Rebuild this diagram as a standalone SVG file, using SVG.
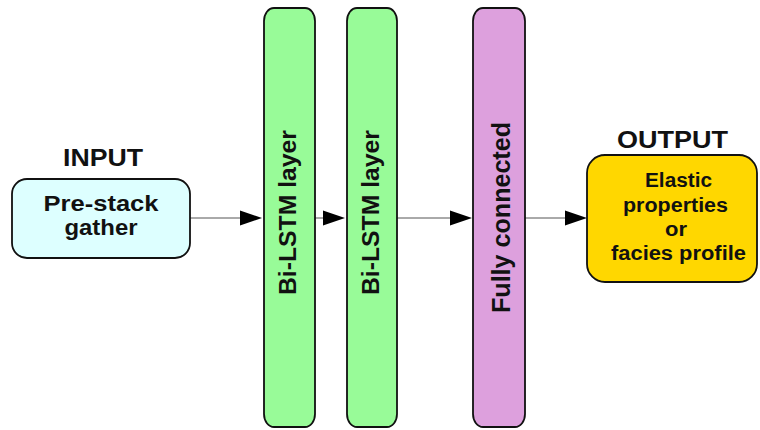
<svg xmlns="http://www.w3.org/2000/svg" width="760" height="430" viewBox="0 0 760 430">
  <defs>
    <style>
      .box { stroke: #111; stroke-width: 1.8; }
      .t { font-family: "Liberation Sans", Arial, sans-serif; font-weight: bold; fill: #111; text-anchor: middle; }
      .link { stroke: #555; stroke-width: 1; fill: none; }
      .head { fill: #000; }
    </style>
  </defs>
  <rect width="760" height="430" fill="#ffffff"/>

  <g id="connectors">
    <line class="link" x1="190" y1="218" x2="242" y2="218"/>
    <polygon class="head" points="240,210.5 262,218 240,225.5"/>
    <line class="link" x1="315" y1="218" x2="325" y2="218"/>
    <polygon class="head" points="323,210.5 345,218 323,225.5"/>
    <line class="link" x1="397" y1="218" x2="452" y2="218"/>
    <polygon class="head" points="450,210.5 472,218 450,225.5"/>
    <line class="link" x1="525" y1="218" x2="567" y2="218"/>
    <polygon class="head" points="565,210.5 587,218 565,225.5"/>
  </g>

  <g id="input">
    <text class="t" x="103" y="166" font-size="24" textLength="80" lengthAdjust="spacingAndGlyphs">INPUT</text>
    <rect class="box" x="12" y="179" width="178" height="79" rx="15" ry="15" fill="#ddffff"/>
    <text class="t" x="101" y="211" font-size="22" textLength="115" lengthAdjust="spacingAndGlyphs">Pre-stack</text>
    <text class="t" x="101" y="235" font-size="22" textLength="73" lengthAdjust="spacingAndGlyphs">gather</text>
  </g>

  <g id="bilstm1">
    <rect class="box" x="264" y="8" width="51" height="419" rx="10" ry="13" fill="#98fb98"/>
    <text class="t" transform="translate(296,212.5) rotate(-90)" font-size="24" textLength="165" lengthAdjust="spacingAndGlyphs">Bi-LSTM layer</text>
  </g>

  <g id="bilstm2">
    <rect class="box" x="347" y="8" width="50" height="419" rx="10" ry="13" fill="#98fb98"/>
    <text class="t" transform="translate(378.5,212.5) rotate(-90)" font-size="24" textLength="165" lengthAdjust="spacingAndGlyphs">Bi-LSTM layer</text>
  </g>

  <g id="fully-connected">
    <rect class="box" x="473" y="8" width="52" height="419" rx="10" ry="13" fill="#dda0dd"/>
    <text class="t" transform="translate(510,217.5) rotate(-90)" font-size="25" textLength="191" lengthAdjust="spacingAndGlyphs">Fully connected</text>
  </g>

  <g id="output">
    <text class="t" x="672.5" y="148" font-size="24" textLength="111" lengthAdjust="spacingAndGlyphs">OUTPUT</text>
    <rect class="box" x="587" y="155" width="170" height="127" rx="18" ry="18" fill="#ffd700"/>
    <text class="t" x="678.5" y="187" font-size="20" textLength="67" lengthAdjust="spacingAndGlyphs">Elastic</text>
    <text class="t" x="675.5" y="212" font-size="20" textLength="105" lengthAdjust="spacingAndGlyphs">properties</text>
    <text class="t" x="676" y="236" font-size="20" textLength="22" lengthAdjust="spacingAndGlyphs">or</text>
    <text class="t" x="678.5" y="260" font-size="20" textLength="135" lengthAdjust="spacingAndGlyphs">facies profile</text>
  </g>
</svg>
